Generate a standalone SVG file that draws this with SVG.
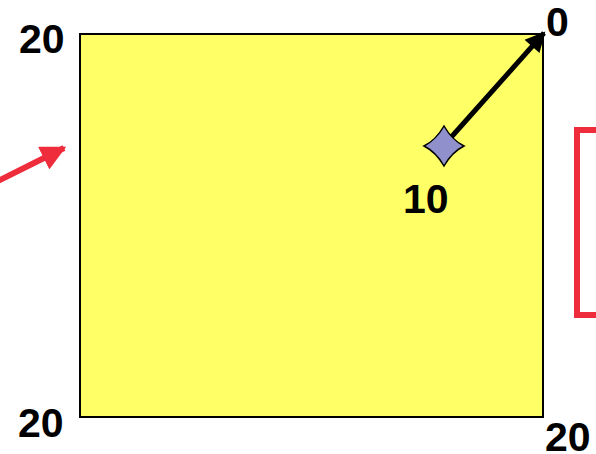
<svg xmlns="http://www.w3.org/2000/svg" width="596" height="454" viewBox="0 0 596 454">
<style>
.lbl{font-family:"Liberation Sans",Arial,sans-serif;font-weight:bold;font-size:41px;fill:#000}
</style>
<defs>
<marker id="ab" viewBox="0 0 10 10" refX="9" refY="5" markerWidth="4.5" markerHeight="4" orient="auto" markerUnits="strokeWidth"><path d="M0,0 L10,5 L0,10 z" fill="#000"/></marker>
<marker id="ar" viewBox="0 0 10 10" refX="9" refY="5" markerWidth="4.2" markerHeight="4.2" orient="auto" markerUnits="strokeWidth"><path d="M0,0 L10,5 L0,10 z" fill="#EE2C3C"/></marker>
</defs>
<rect width="596" height="454" fill="#fff"/>
<g id="board">
<rect x="80" y="34" width="463" height="383" fill="#FFFF66" stroke="#000" stroke-width="2"/>
</g>
<g id="bracket">
<path d="M597,130 H577 V315 H597" fill="none" stroke="#EE2C3C" stroke-width="6"/>
</g>
<g id="connectors">
<line x1="-2" y1="181" x2="64" y2="148" stroke="#EE2C3C" stroke-width="6" marker-end="url(#ar)"/>
<line x1="446" y1="143" x2="544" y2="33" stroke="#000" stroke-width="5" marker-end="url(#ab)"/>
</g>
<g id="marker10">
<path d="M424,146 Q436,140 444,126 Q452,140 464,146 Q452,152 444,166 Q436,152 424,146 z" fill="#9090CC" stroke="#000" stroke-width="1.5"/>
</g>
<g id="labels">
<text class="lbl" x="19" y="53">20</text>
<text class="lbl" x="546" y="36">0</text>
<text class="lbl" x="403" y="213">10</text>
<text class="lbl" x="18" y="437">20</text>
<text class="lbl" x="545" y="451">20</text>
</g>
</svg>
